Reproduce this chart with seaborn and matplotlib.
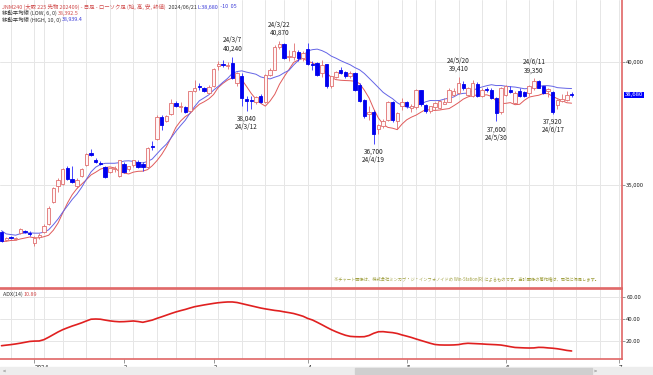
import numpy as np
import pandas as pd
import matplotlib
matplotlib.use("Agg")
import matplotlib.pyplot as plt
import matplotlib.ticker as mticker
from matplotlib.patches import Rectangle
import seaborn as sns

sns.set_theme(style="white")
plt.rcParams["font.family"] = ["Noto Sans CJK JP", "DejaVu Sans"]

#trading days shown (2023/12/21 - 2024/06/21)
holidays = ["2024-01-01", "2024-01-02", "2024-01-03", "2024-01-08", "2024-02-12",
            "2024-02-23", "2024-03-20", "2024-04-29", "2024-05-03", "2024-05-06"]
dates = pd.bdate_range("2023-12-21", "2024-06-21")
dates = dates[~dates.isin(pd.to_datetime(holidays))]

opens = [33090, 32780, 32900, 32830, 33070, 33150, 33080, 32680, 32900, 33110,
         33450, 34320, 34960, 35070, 35720, 35250, 34970, 35380, 35850, 36300,
         36020, 35930, 35750, 35540, 35650, 35370, 35890, 35680, 35820, 35950,
         35870, 35750, 36600, 36880, 37800, 37620, 37900, 38350, 38200, 38180,
         38030, 38850, 39060, 38960, 38760, 39030, 39850, 39950, 39850, 39990,
         39170, 39470, 38500, 38480, 38410, 38620, 38410, 39510, 39710, 40640,
         40740, 40230, 40230, 40420, 40190, 40560, 39950, 39990, 39580, 39920,
         39030, 39410, 39710, 39620, 39440, 39580, 39100, 38480, 37920, 37980,
         37280, 37400, 37660, 38380, 37630, 38210, 38410, 38140, 38180, 38890,
         38280, 38040, 38180, 38150, 38320, 38410, 38690, 38750, 39130, 38690,
         38620, 39130, 38620, 38920, 38890, 38550, 38000, 38690, 38890, 38350,
         38820, 38800, 38760, 38960, 39230, 39030, 38820, 38780, 38280, 38450,
         38480, 38720]
highs = [33160, 32900, 32950, 32900, 33280, 33200, 33130, 32960, 33050, 33450,
         34150, 34950, 35300, 35700, 35800, 35800, 35300, 35700, 36300, 36500,
         36100, 36000, 35800, 35720, 35800, 36050, 35950, 35800, 36050, 36050,
         35950, 36580, 36800, 37850, 37870, 37880, 38520, 38420, 38400, 38230,
         38850, 39270, 39150, 39020, 39100, 39780, 40050, 40100, 40000, 40240,
         39600, 39560, 38620, 38620, 38650, 38700, 39550, 39780, 40700, 40870,
         40780, 40500, 40800, 40500, 40450, 40780, 40050, 40000, 40100, 39950,
         39450, 39650, 39800, 39650, 39650, 39620, 39150, 38520, 38210, 38050,
         37500, 37700, 38450, 38420, 38000, 38550, 38450, 38300, 38920, 38900,
         38300, 38250, 38400, 38480, 38550, 38950, 38950, 39410, 39250, 39000,
         39300, 39200, 38950, 39000, 38950, 38600, 39000, 39100, 39050, 38850,
         38960, 38850, 39100, 39350, 39300, 39050, 38950, 38850, 38500, 38700,
         38820, 38780]
lows = [32720, 32740, 32830, 32790, 33040, 33060, 32960, 32550, 32820, 33060,
        33400, 34280, 34720, 35020, 35230, 35080, 34900, 35350, 35800, 36200,
        35900, 35820, 35300, 35500, 35550, 35350, 35500, 35600, 35750, 35700,
        35590, 35720, 36450, 36850, 37250, 37560, 37850, 38200, 37990, 37950,
        37980, 38790, 38900, 38800, 38700, 39000, 39700, 39800, 39720, 39340,
        39050, 38210, 38040, 38100, 38300, 38350, 38350, 39450, 39680, 40550,
        40150, 40080, 40100, 40050, 40050, 39900, 39700, 39450, 39400, 38960,
        38950, 39350, 39550, 39380, 39350, 38850, 38380, 37750, 37660, 36700,
        37100, 37350, 37600, 37560, 37300, 38050, 38150, 38000, 38100, 38250,
        37950, 37950, 38050, 38100, 38300, 38400, 38650, 38700, 38900, 38650,
        38600, 38580, 38580, 38800, 38500, 37600, 37900, 38650, 38750, 38300,
        38600, 38600, 38650, 38900, 38950, 38700, 38600, 37920, 38100, 38400,
        38450, 38600]
closes = [32740, 32860, 32860, 32870, 33240, 33100, 33020, 32880, 32970, 33360,
          34100, 34900, 35240, 35650, 35270, 35120, 35240, 35650, 36270, 36250,
          35940, 35870, 35340, 35700, 35720, 36020, 35540, 35780, 36020, 35750,
          35760, 36530, 36560, 37800, 37460, 37840, 38350, 38240, 38240, 38000,
          38820, 38960, 38990, 38850, 39000, 39740, 39920, 39880, 39900, 39370,
          39580, 38550, 38440, 38420, 38580, 38410, 39510, 39710, 40640, 40740,
          40190, 40270, 40460, 40190, 40380, 39950, 39880, 39510, 39880, 39030,
          39440, 39600, 39580, 39440, 39580, 38890, 38420, 37830, 37980, 37100,
          37460, 37620, 38410, 37660, 37940, 38410, 38240, 38240, 38890, 38300,
          38030, 38210, 38350, 38440, 38410, 38890, 38820, 39170, 38960, 38960,
          39170, 38620, 38890, 38880, 38550, 37960, 38960, 39030, 38780, 38760,
          38650, 38650, 39060, 39230, 38960, 38760, 38920, 38000, 38480, 38510,
          38690, 38680]
adx = [15.7, 16.2, 16.7, 17.3, 18.0, 18.8, 19.6, 19.9, 20.0, 21.2,
       23.4, 25.8, 28.2, 30.3, 32.0, 33.6, 35.0, 36.5, 38.2, 39.8,
       40.0, 39.8, 39.0, 38.3, 37.8, 37.5, 37.6, 37.9, 38.2, 37.7,
       37.0, 38.0, 39.0, 40.6, 42.0, 43.5, 45.0, 46.4, 47.6, 48.7,
       50.0, 51.2, 52.0, 52.8, 53.5, 54.2, 54.8, 55.2, 55.5, 55.5,
       55.0, 54.0, 53.0, 52.0, 51.0, 50.0, 49.2, 48.5, 47.8, 47.3,
       46.5, 45.8, 45.0, 43.8, 42.5, 40.5, 39.1, 37.0, 34.8, 32.5,
       30.3, 28.4, 26.7, 25.2, 24.2, 23.9, 23.8, 23.9, 25.0, 27.0,
       28.4, 28.5, 28.0, 27.6, 26.8, 25.5, 24.4, 23.2, 21.8, 20.5,
       19.2, 17.9, 16.8, 16.4, 16.3, 16.3, 16.4, 16.7, 17.5, 17.9,
       17.7, 17.5, 17.3, 17.0, 16.8, 16.6, 16.3, 15.6, 14.8, 14.1,
       13.9, 13.7, 13.6, 13.7, 14.2, 14.1, 13.7, 13.4, 12.9, 12.2,
       11.4, 10.9]

peak_dates = ["2024-03-07", "2024-03-22", "2024-05-20", "2024-06-11"]
trough_dates = ["2024-03-12", "2024-04-19", "2024-05-30", "2024-06-17"]
month_labels = ["2024", "2", "3", "4", "5", "6", "7"]
price_ticks = [35000, 40000]
adx_ticks = [20, 40, 60]
last_price = "38,680"

df = pd.DataFrame({"date": dates, "open": opens, "high": highs, "low": lows,
                   "close": closes, "adx": adx})
df["i"] = np.arange(len(df))
df["ma_low"] = df["low"].rolling(6, min_periods=1).mean()
df["ma_high"] = df["high"].rolling(10, min_periods=1).mean()
df["up"] = df["close"] >= df["open"]

#tick / grid positions
month_pos = list(df.groupby(df["date"].dt.to_period("M"))["i"].first().values[1:]) + [131]
week_pos = list(df.groupby(df["date"].dt.to_period("W"))["i"].first().values[1:]) + [122, 127, 131]

RED = "#e06666"
GRID = "#e6e6e6"

fig = plt.figure(figsize=(6.53, 3.75), dpi=100)
ax1 = fig.add_axes([0, 1 - 288 / 375, 622 / 653, 288 / 375])
ax2 = fig.add_axes([0, 1 - 359 / 375, 622 / 653, 70 / 375])
xlim = (-0.32, 131.7)

#grid
for ax in (ax1, ax2):
    for p in week_pos:
        ax.axvline(p, color=GRID, lw=0.7, zorder=0)
for p in price_ticks:
    ax1.axhline(p, color=GRID, lw=0.7, zorder=0)
for p in adx_ticks:
    ax2.axhline(p, color=GRID, lw=0.7, zorder=0)

#candles
up = df[df["up"]]
dn = df[~df["up"]]
ax1.vlines(up["i"], up["low"], up["high"], color="#e07070", lw=0.6, zorder=3)
ax1.vlines(dn["i"], dn["low"], dn["high"], color="#2a2aff", lw=0.6, zorder=3)
ax1.bar(up["i"], (up["close"] - up["open"]).clip(lower=15), bottom=up["open"], width=0.72,
        facecolor="#fff6f6", edgecolor="#e07070", linewidth=0.6, zorder=4)
ax1.bar(dn["i"], (dn["open"] - dn["close"]).clip(lower=15), bottom=dn["close"], width=0.72,
        facecolor="#0000ee", edgecolor="#0000ee", linewidth=0.6, zorder=4)

sns.lineplot(data=df, x="i", y="ma_low", ax=ax1, color="#e05a5a", lw=0.7, zorder=2, legend=False)
sns.lineplot(data=df, x="i", y="ma_high", ax=ax1, color="#6464e6", lw=0.7, zorder=2, legend=False)

#high / low labels
for d in peak_dates:
    r = df[df["date"] == pd.Timestamp(d)].iloc[0]
    ax1.annotate(f"{r['date']:%y}/{r['date'].month}/{r['date'].day}\n{r['high']:,}",
                 (r["i"], r["high"]), xytext=(0, 3), textcoords="offset points",
                 ha="center", va="bottom", fontsize=4.6, color="#222222", linespacing=1.05)
for d in trough_dates:
    r = df[df["date"] == pd.Timestamp(d)].iloc[0]
    ax1.annotate(f"{r['low']:,}\n{r['date']:%y}/{r['date'].month}/{r['date'].day}",
                 (r["i"], r["low"]), xytext=(0, -3), textcoords="offset points",
                 ha="center", va="top", fontsize=4.6, color="#222222", linespacing=1.05)

ax1.set_xlim(*xlim)
ax1.set_ylim(30830, 42540)
ax1.set_xticks([])
ax1.yaxis.tick_right()
ax1.set_yticks(price_ticks)
ax1.yaxis.set_major_formatter(mticker.FuncFormatter(lambda v, p: f"{v:,.0f}"))
ax1.tick_params(axis="y", length=2, width=0.6, color="#888888", pad=1, labelsize=4.3,
                labelcolor="#222222", right=True)
ax1.set_xlabel("")
ax1.set_ylabel("")
ax1.text(1.004, int(last_price.replace(",", "")), last_price, transform=ax1.get_yaxis_transform(),
         ha="left", va="center", fontsize=4.3, color="white",
         bbox=dict(boxstyle="square,pad=0.15", facecolor="#0000ff", edgecolor="none"))

#ADX panel
sns.lineplot(data=df, x="i", y="adx", ax=ax2, color="#e02020", lw=1.2, legend=False)
ax2.set_xlim(*xlim)
ax2.set_ylim(3.6, 67.3)
ax2.yaxis.tick_right()
ax2.set_yticks(adx_ticks)
ax2.yaxis.set_major_formatter(mticker.FormatStrFormatter("%.2f"))
ax2.tick_params(axis="y", length=2, width=0.6, color="#888888", pad=1, labelsize=4.3,
                labelcolor="#222222", right=True)
ax2.set_xticks(month_pos)
ax2.set_xticklabels(month_labels, ha="left")
ax2.tick_params(axis="x", length=3, width=0.6, color="#888888", pad=0.5, labelsize=4.6,
                labelcolor="#222222", bottom=True)
ax2.set_xlabel("")
ax2.set_ylabel("")

for ax in (ax1, ax2):
    for s in ("left", "top"):
        ax.spines[s].set_visible(False)
    for s in ("right", "bottom"):
        ax.spines[s].set_color(RED)
        ax.spines[s].set_linewidth(1.2)
ax2.spines["top"].set_visible(True)
ax2.spines["top"].set_color(RED)
ax2.spines["top"].set_linewidth(1.2)

#header texts, several colours on one line
renderer = fig.canvas.get_renderer()

def header(x, y, parts, size):
    for s, c in parts:
        t = fig.text(x, y, s, color=c, fontsize=size, ha="left", va="baseline")
        x += t.get_window_extent(renderer).width / fig.bbox.width

header(2 / 653, 1 - 8.5 / 375,
       [("JNM240 (大取 225 先物 202409) - 日足 - ローソク足 (始, 高, 安, 終値)", "#d04848"),
        ("  2024/06/21 ", "#333333"), ("L:38,680", "#3a3ad8"), (" -10  05", "#3a3ad8")], 3.9)
header(2 / 653, 1 - 15 / 375,
       [("移動平均線 (LOW, 6, 0) ", "#333333"), ("38,392.5", "#d04848")], 3.9)
header(2 / 653, 1 - 21.5 / 375,
       [("移動平均線 (HIGH, 10, 0) ", "#333333"), ("38,939.4", "#3a3ad8")], 3.9)
header(3 / 653, 1 - 295.5 / 375,
       [("ADX(14) ", "#333333"), ("10.89", "#d04848")], 3.9)

fig.text(467 / 653, 1 - 279 / 375,
         "※チャート画像は、株式会社ミンカブ・ジ・インフォノイドの Win-Station(R) によるものです。当該画像の著作権は、同社に帰属します。",
         color="#a0a040", fontsize=3.1, ha="center", va="center")

#scroll bar strip at the bottom
fig.patches.append(Rectangle((0, 0), 1, 8 / 375, transform=fig.transFigure, color="#ededed", zorder=0))
fig.patches.append(Rectangle((355 / 653, 1 / 375), 237 / 653, 6 / 375, transform=fig.transFigure,
                             color="#cfcfcf", zorder=1))
fig.text(3 / 653, 4 / 375, "<", fontsize=4, color="#666666", va="center")
fig.text(594 / 653, 4 / 375, ">", fontsize=4, color="#666666", va="center")

fig.savefig("out.png", dpi=100)
